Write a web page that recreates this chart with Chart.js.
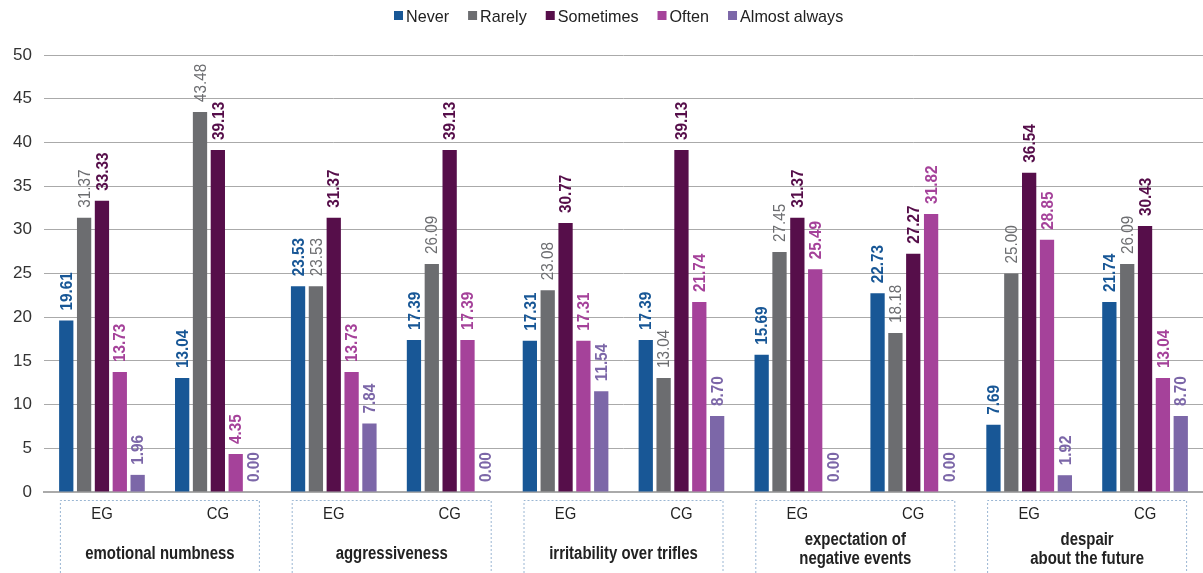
<!DOCTYPE html>
<html>
<head>
<meta charset="utf-8">
<script src="https://cdn.jsdelivr.net/npm/chart.js@4.4.1/dist/chart.umd.min.js"></script>
<style>
html,body{margin:0;padding:0;background:#fff;}
#wrap{width:1203px;height:573px;position:relative;}
</style>
</head>
<body>
<div id="wrap"><canvas id="c" width="1203" height="573"></canvas></div>
<script>
const categories = ['EG','CG','EG','CG','EG','CG','EG','CG','EG','CG'];
const groupLabels = [
  ['emotional numbness'],
  ['aggressiveness'],
  ['irritability over trifles'],
  ['expectation of','negative events'],
  ['despair','about the future']
];
const seriesNames = ['Never','Rarely','Sometimes','Often','Almost always'];
const never     = [19.61, 13.04, 23.53, 17.39, 17.31, 17.39, 15.69, 22.73, 7.69, 21.74];
const rarely    = [31.37, 43.48, 23.53, 26.09, 23.08, 13.04, 27.45, 18.18, 25.00, 26.09];
const sometimes = [33.33, 39.13, 31.37, 39.13, 30.77, 39.13, 31.37, 27.27, 36.54, 30.43];
const often     = [13.73, 4.35, 13.73, 17.39, 17.31, 21.74, 25.49, 31.82, 28.85, 13.04];
const almost    = [1.96, 0.00, 7.84, 0.00, 11.54, 8.70, 0.00, 0.00, 1.92, 8.70];
const yTicks = [0,5,10,15,20,25,30,35,40,45,50];

const colors = ['#185796','#6c6d70','#560e4a','#a5429a','#7c67a8'];
const labelBold = [true,false,true,true,true];
const seriesValues = [never, rarely, sometimes, often, almost];

const FONT = '"Liberation Sans", Arial, sans-serif';

function drawText(ctx, text, x, y, font, color, align, sx) {
  ctx.save();
  ctx.font = font;
  ctx.fillStyle = color;
  ctx.textBaseline = 'alphabetic';
  ctx.translate(x, y);
  ctx.scale(sx, 1);
  const w = ctx.measureText(text).width;
  let ox = 0;
  if (align === 'center') ox = -w/2;
  else if (align === 'right') ox = -w;
  ctx.textAlign = 'left';
  ctx.fillText(text, ox, 0);
  ctx.restore();
  return w * sx;
}

const overlay = {
  id: 'overlay',
  afterDraw(chart) {
    const ctx = chart.ctx;
    const xs = chart.scales.x;
    // Legend
    let lx = 394;
    seriesNames.forEach((n, i) => {
      ctx.fillStyle = colors[i];
      ctx.fillRect(lx, 11, 9, 9);
      lx += 12;
      const w = drawText(ctx, n, lx, 21.5, '17px ' + FONT, '#222', 'left', 0.95);
      lx += w + 19;
    });

    // Data labels
    chart.data.datasets.forEach((ds, di) => {
      const meta = chart.getDatasetMeta(di);
      meta.data.forEach((bar, i) => {
        const v = ds.data[i];
        ctx.save();
        ctx.translate(bar.x, bar.y - 10);
        ctx.rotate(-Math.PI/2);
        ctx.scale(0.9, 1);
        ctx.font = (labelBold[di] ? 'bold ' : '') + '17px ' + FONT;
        ctx.fillStyle = colors[di];
        ctx.textAlign = 'left';
        ctx.textBaseline = 'middle';
        ctx.fillText(v.toFixed(2), 0, 1);
        ctx.restore();
      });
    });

    // x tick labels
    categories.forEach((c, i) => {
      const x = xs.getPixelForValue(i);
      drawText(ctx, c, x, 518.5, '16.5px ' + FONT, '#222', 'center', 0.9);
    });

    // group boxes and labels
    groupLabels.forEach((lines, g) => {
      const cx = (xs.getPixelForValue(2*g) + xs.getPixelForValue(2*g+1)) / 2;
      ctx.save();
      ctx.strokeStyle = '#9ab6d3';
      ctx.lineWidth = 1;
      ctx.setLineDash([2,2]);
      ctx.beginPath();
      ctx.moveTo(cx - 100 + 0.5, 585);
      ctx.lineTo(cx - 100 + 0.5, 500.5);
      ctx.lineTo(cx + 100 - 0.5, 500.5);
      ctx.lineTo(cx + 100 - 0.5, 585);
      ctx.stroke();
      ctx.restore();
      if (lines.length === 1) {
        drawText(ctx, lines[0], cx, 559, 'bold 18px ' + FONT, '#222', 'center', 0.83);
      } else {
        drawText(ctx, lines[0], cx, 545, 'bold 18px ' + FONT, '#222', 'center', 0.83);
        drawText(ctx, lines[1], cx, 564, 'bold 18px ' + FONT, '#222', 'center', 0.83);
      }
    });
  }
};

new Chart(document.getElementById('c'), {
  type: 'bar',
  data: {
    labels: categories,
    datasets: seriesNames.map((n, i) => ({
      label: n,
      data: seriesValues[i],
      backgroundColor: colors[i],
      borderWidth: 0,
      categoryPercentage: 0.77,
      barPercentage: 0.8
    }))
  },
  options: {
    responsive: false,
    animation: false,
    devicePixelRatio: 1,
    layout: { padding: { top: 55, left: 0, right: 0, bottom: 0 } },
    plugins: { legend: { display: false }, tooltip: { enabled: false } },
    scales: {
      x: {
        offset: true,
        grid: { display: false, drawTicks: false },
        border: { display: true, color: '#aaaaaa', width: 2 },
        ticks: { display: false },
        afterFit(s) { s.height = 81; }
      },
      y: {
        min: 0, max: 50,
        afterBuildTicks(s) { s.ticks = yTicks.map(v => ({ value: v })); },
        grid: { color: '#aaaaaa', lineWidth: 1, drawTicks: false },
        border: { display: false },
        ticks: { font: { family: FONT, size: 17 }, color: '#333', padding: 12 },
        afterFit(s) { s.width = 44; }
      }
    }
  },
  plugins: [overlay]
});
</script>
</body>
</html>
